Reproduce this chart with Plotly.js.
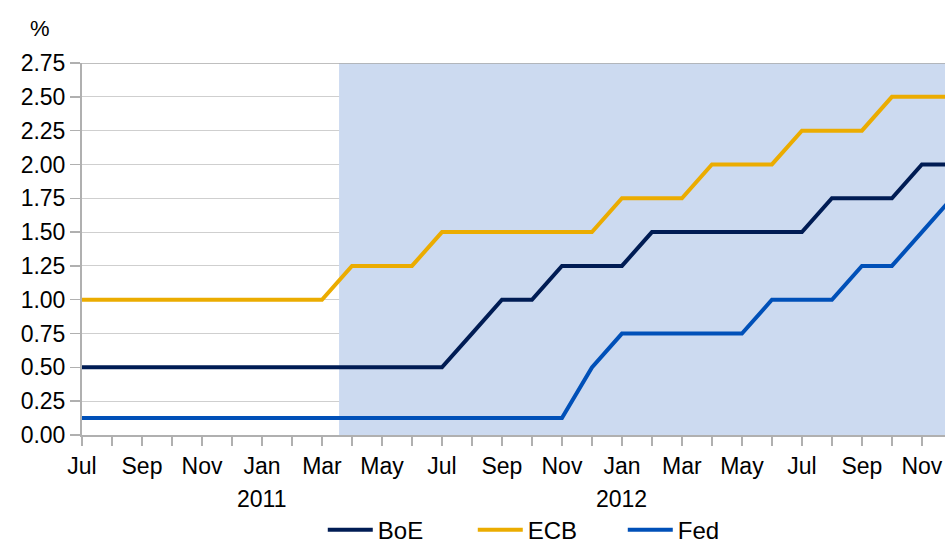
<!DOCTYPE html>
<html>
<head>
<meta charset="utf-8">
<script src="https://cdn.plot.ly/plotly-3.0.1.min.js"></script>
<style>
  html, body { margin: 0; padding: 0; background: #ffffff; }
  #chart { width: 945px; height: 547px; }
</style>
</head>
<body>
<div id="chart"></div>
<script>
// Months from Jul 2010 to Dec 2012
const months = ["Jul","Aug","Sep","Oct","Nov","Dec",
                "Jan","Feb","Mar","Apr","May","Jun","Jul","Aug","Sep","Oct","Nov","Dec",
                "Jan","Feb","Mar","Apr","May","Jun","Jul","Aug","Sep","Oct","Nov","Dec"];
const tickLabels = ["Jul","","Sep","","Nov","",
                    "Jan","","Mar","","May","","Jul","","Sep","","Nov","",
                    "Jan","","Mar","","May","","Jul","","Sep","","Nov",""];
const yearLabels = ["2011", "2012"];
const yearMonthIndex = [6, 18];

const boe = [0.50,0.50,0.50,0.50,0.50,0.50,
             0.50,0.50,0.50,0.50,0.50,0.50,0.50,0.75,1.00,1.00,1.25,1.25,
             1.25,1.50,1.50,1.50,1.50,1.50,1.50,1.75,1.75,1.75,2.00,2.00];
const ecb = [1.00,1.00,1.00,1.00,1.00,1.00,
             1.00,1.00,1.00,1.25,1.25,1.25,1.50,1.50,1.50,1.50,1.50,1.50,
             1.75,1.75,1.75,2.00,2.00,2.00,2.25,2.25,2.25,2.50,2.50,2.50];
const fed = [0.125,0.125,0.125,0.125,0.125,0.125,
             0.125,0.125,0.125,0.125,0.125,0.125,0.125,0.125,0.125,0.125,0.125,0.50,
             0.75,0.75,0.75,0.75,0.75,1.00,1.00,1.00,1.25,1.25,1.50,1.75];

// Shaded (forecast) period, in month-index units
const shadeStart = [8.57];
const shadeEnd = [29];
const yMax = 2.75;

const xIdx = months.map((_, i) => i);

const FONT = "Liberation Sans, Arial, sans-serif";

const traces = [
  {
    x: [shadeStart[0], shadeStart[0], shadeEnd[0], shadeEnd[0]],
    y: [0, yMax, yMax, 0],
    type: "scatter", mode: "lines", fill: "toself",
    fillcolor: "#ccdaf0", line: { width: 0 },
    showlegend: false, hoverinfo: "skip"
  },
  { x: xIdx, y: boe, name: "BoE", type: "scatter", mode: "lines",
    line: { color: "#001c54", width: 4 } },
  { x: xIdx, y: ecb, name: "ECB", type: "scatter", mode: "lines",
    line: { color: "#ebac00", width: 4 } },
  { x: xIdx, y: fed, name: "Fed", type: "scatter", mode: "lines",
    line: { color: "#0050b8", width: 4 } }
];

const annotations = [
  { text: "%", xref: "paper", yref: "paper", x: -0.0487, y: 1.094,
    xanchor: "center", yanchor: "middle", showarrow: false,
    font: { family: FONT, size: 22, color: "#000" } }
];
yearLabels.forEach((t, k) => {
  annotations.push({ text: t, xref: "x", yref: "paper", x: yearMonthIndex[k], y: -0.172,
    xanchor: "center", yanchor: "middle", showarrow: false,
    font: { family: FONT, size: 23, color: "#000" } });
});

const layout = {
  width: 945, height: 547,
  margin: { l: 82, r: 0, t: 63, b: 112, autoexpand: false },
  paper_bgcolor: "#ffffff", plot_bgcolor: "#ffffff",
  font: { family: FONT, size: 23, color: "#000" },
  xaxis: {
    range: [0, 28.77],
    tickmode: "array", tickvals: xIdx, ticktext: tickLabels,
    ticks: "outside", ticklen: 9, tickwidth: 1.5, tickcolor: "#b0b0b0",
    showline: true, linecolor: "#b0b0b0", linewidth: 2,
    showgrid: false, zeroline: false,
    tickfont: { family: FONT, size: 23, color: "#000" }
  },
  yaxis: {
    range: [0, yMax], dtick: 0.25, tick0: 0, tickformat: ".2f",
    ticks: "outside", ticklen: 10, tickwidth: 1.5, tickcolor: "#b0b0b0",
    showline: true, linecolor: "#b0b0b0", linewidth: 2,
    showgrid: true, gridcolor: "#cfcfcf", gridwidth: 1,
    zeroline: false,
    tickfont: { family: FONT, size: 23, color: "#000" }
  },
  shapes: [
    { type: "line", xref: "paper", yref: "y", x0: 0, x1: 1, y0: yMax, y1: yMax,
      line: { color: "#aaaaaa", width: 1.5 }, layer: "above" }
  ],
  legend: {
    orientation: "h", x: 0.279, y: -0.256, xanchor: "left", yanchor: "middle",
    font: { family: FONT, size: 24, color: "#000" },
    itemwidth: 45, entrywidth: 90, entrywidthmode: "pixels",
    bgcolor: "rgba(0,0,0,0)"
  },
  annotations: annotations,
  hovermode: false
};

Plotly.newPlot("chart", traces, layout, { displayModeBar: false, staticPlot: true });
</script>
</body>
</html>
